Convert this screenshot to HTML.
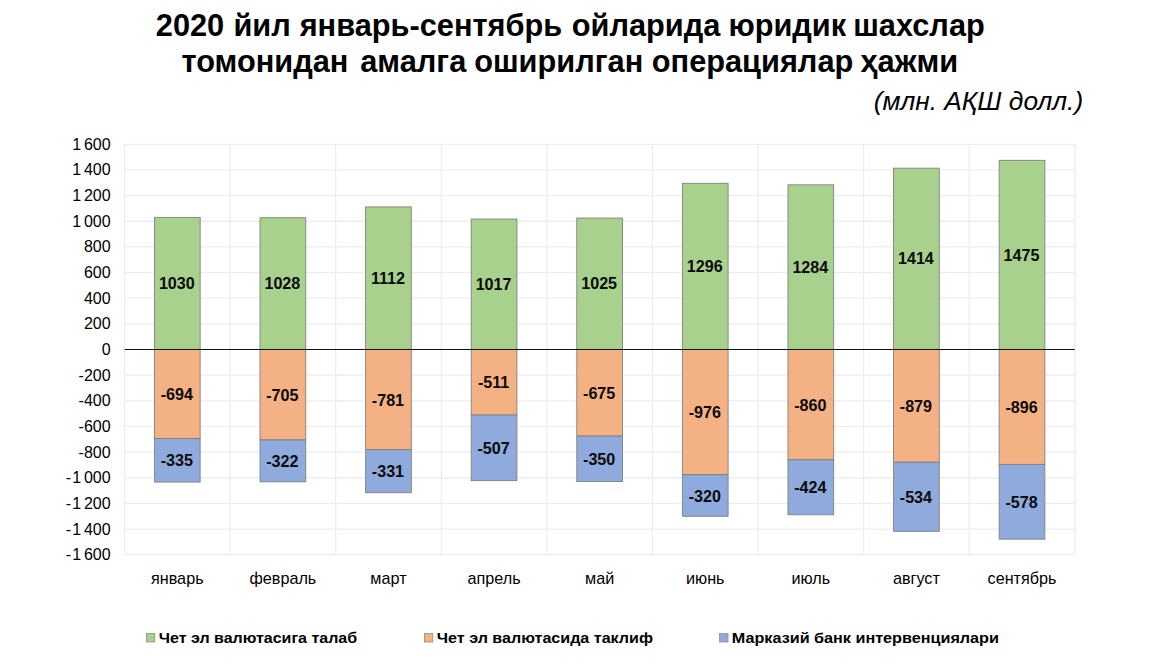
<!DOCTYPE html>
<html lang="uz"><head><meta charset="utf-8"><title>Chart</title>
<style>
html,body{margin:0;padding:0;background:#fff;}
body{width:1155px;height:667px;overflow:hidden;}
svg{display:block;font-family:"Liberation Sans",sans-serif;}
.t{font-weight:bold;fill:#000;}
.yl{fill:#000;text-anchor:end;}
.xl{fill:#000;text-anchor:middle;}
.dl{font-weight:bold;fill:#0a0a0a;text-anchor:middle;}
.lg{font-weight:bold;fill:#000;}
.gr{stroke:#ededf0;stroke-width:1.3;fill:none;}
.bar{stroke:#808080;stroke-width:0.9;}
</style></head><body>
<svg width="1155" height="667" viewBox="0 0 1155 667">
<rect width="1155" height="667" fill="#fff"/>
<text class="t" x="570.3" y="36.3" font-size="30.75" text-anchor="middle">2020 <tspan dx="0.7">йил</tspan> <tspan dx="0.3">январь-сентябрь</tspan> <tspan dx="1">ойларида</tspan> <tspan dx="-0.5">юридик</tspan> <tspan dx="-1.5">шахслар</tspan></text>
<text class="t" x="569.85" y="72.2" font-size="30.75" text-anchor="middle">томонидан <tspan dx="3.3">амалга</tspan> <tspan dx="-0.6">оширилган</tspan> <tspan dx="0">операциялар</tspan> <tspan dx="-1.4">ҳажми</tspan></text>
<text x="1083.2" y="109.8" font-size="26.3" font-style="italic" text-anchor="end" fill="#000">(млн. АҚШ долл.)</text>
<g class="gr">
<line x1="124.5" y1="144.3" x2="1074.8" y2="144.3"/>
<line x1="124.5" y1="169.95" x2="1074.8" y2="169.95"/>
<line x1="124.5" y1="195.6" x2="1074.8" y2="195.6"/>
<line x1="124.5" y1="221.25" x2="1074.8" y2="221.25"/>
<line x1="124.5" y1="246.9" x2="1074.8" y2="246.9"/>
<line x1="124.5" y1="272.55" x2="1074.8" y2="272.55"/>
<line x1="124.5" y1="298.2" x2="1074.8" y2="298.2"/>
<line x1="124.5" y1="323.85" x2="1074.8" y2="323.85"/>
<line x1="124.5" y1="375.15" x2="1074.8" y2="375.15"/>
<line x1="124.5" y1="400.8" x2="1074.8" y2="400.8"/>
<line x1="124.5" y1="426.45" x2="1074.8" y2="426.45"/>
<line x1="124.5" y1="452.1" x2="1074.8" y2="452.1"/>
<line x1="124.5" y1="477.75" x2="1074.8" y2="477.75"/>
<line x1="124.5" y1="503.4" x2="1074.8" y2="503.4"/>
<line x1="124.5" y1="529.05" x2="1074.8" y2="529.05"/>
<line x1="124.5" y1="554.7" x2="1074.8" y2="554.7"/>
<line x1="124.5" y1="144.3" x2="124.5" y2="554.7"/>
<line x1="230.09" y1="144.3" x2="230.09" y2="554.7"/>
<line x1="335.68" y1="144.3" x2="335.68" y2="554.7"/>
<line x1="441.27" y1="144.3" x2="441.27" y2="554.7"/>
<line x1="546.86" y1="144.3" x2="546.86" y2="554.7"/>
<line x1="652.44" y1="144.3" x2="652.44" y2="554.7"/>
<line x1="758.03" y1="144.3" x2="758.03" y2="554.7"/>
<line x1="863.62" y1="144.3" x2="863.62" y2="554.7"/>
<line x1="969.21" y1="144.3" x2="969.21" y2="554.7"/>
<line x1="1074.8" y1="144.3" x2="1074.8" y2="554.7"/>
</g>
<g class="yl" font-size="16">
<text x="110.6" y="149.75">1 <tspan dx="-1.6">600</tspan></text>
<text x="110.6" y="175.4">1 <tspan dx="-1.6">400</tspan></text>
<text x="110.6" y="201.05">1 <tspan dx="-1.6">200</tspan></text>
<text x="110.6" y="226.7">1 <tspan dx="-1.6">000</tspan></text>
<text x="110.6" y="252.35">800</text>
<text x="110.6" y="278">600</text>
<text x="110.6" y="303.65">400</text>
<text x="110.6" y="329.3">200</text>
<text x="110.6" y="354.95">0</text>
<text x="110.6" y="380.6">-200</text>
<text x="110.6" y="406.25">-400</text>
<text x="110.6" y="431.9">-600</text>
<text x="110.6" y="457.55">-800</text>
<text x="110.6" y="483.2">-<tspan dx="1.1">1</tspan> <tspan dx="-1.6">000</tspan></text>
<text x="110.6" y="508.85">-<tspan dx="1.1">1</tspan> <tspan dx="-1.6">200</tspan></text>
<text x="110.6" y="534.5">-<tspan dx="1.1">1</tspan> <tspan dx="-1.6">400</tspan></text>
<text x="110.6" y="560.15">-<tspan dx="1.1">1</tspan> <tspan dx="-1.6">600</tspan></text>
</g>
<rect class="bar" x="154.44" y="217.4" width="45.7" height="132.1" fill="#a9d18e"/>
<rect class="bar" x="154.44" y="349.5" width="45.7" height="89.01" fill="#f4b183"/>
<rect class="bar" x="154.44" y="438.51" width="45.7" height="43.56" fill="#8faadc"/>
<rect class="bar" x="260.03" y="217.66" width="45.7" height="131.84" fill="#a9d18e"/>
<rect class="bar" x="260.03" y="349.5" width="45.7" height="90.42" fill="#f4b183"/>
<rect class="bar" x="260.03" y="439.92" width="45.7" height="41.9" fill="#8faadc"/>
<rect class="bar" x="365.62" y="206.89" width="45.7" height="142.61" fill="#a9d18e"/>
<rect class="bar" x="365.62" y="349.5" width="45.7" height="100.16" fill="#f4b183"/>
<rect class="bar" x="365.62" y="449.66" width="45.7" height="43.05" fill="#8faadc"/>
<rect class="bar" x="471.21" y="219.07" width="45.7" height="130.43" fill="#a9d18e"/>
<rect class="bar" x="471.21" y="349.5" width="45.7" height="65.54" fill="#f4b183"/>
<rect class="bar" x="471.21" y="415.04" width="45.7" height="65.62" fill="#8faadc"/>
<rect class="bar" x="576.8" y="218.04" width="45.7" height="131.46" fill="#a9d18e"/>
<rect class="bar" x="576.8" y="349.5" width="45.7" height="86.57" fill="#f4b183"/>
<rect class="bar" x="576.8" y="436.07" width="45.7" height="45.49" fill="#8faadc"/>
<rect class="bar" x="682.39" y="183.29" width="45.7" height="166.21" fill="#a9d18e"/>
<rect class="bar" x="682.39" y="349.5" width="45.7" height="125.17" fill="#f4b183"/>
<rect class="bar" x="682.39" y="474.67" width="45.7" height="41.64" fill="#8faadc"/>
<rect class="bar" x="787.98" y="184.83" width="45.7" height="164.67" fill="#a9d18e"/>
<rect class="bar" x="787.98" y="349.5" width="45.7" height="110.3" fill="#f4b183"/>
<rect class="bar" x="787.98" y="459.8" width="45.7" height="54.98" fill="#8faadc"/>
<rect class="bar" x="893.57" y="168.15" width="45.7" height="181.35" fill="#a9d18e"/>
<rect class="bar" x="893.57" y="349.5" width="45.7" height="112.73" fill="#f4b183"/>
<rect class="bar" x="893.57" y="462.23" width="45.7" height="69.09" fill="#8faadc"/>
<rect class="bar" x="999.16" y="160.33" width="45.7" height="189.17" fill="#a9d18e"/>
<rect class="bar" x="999.16" y="349.5" width="45.7" height="114.91" fill="#f4b183"/>
<rect class="bar" x="999.16" y="464.41" width="45.7" height="74.73" fill="#8faadc"/>
<line x1="124.5" y1="349.5" x2="1074.8" y2="349.5" stroke="#111" stroke-width="1.15"/>
<g class="dl" font-size="16.1">
<text x="176.79" y="289.05">1030</text>
<text x="176.79" y="400.1">-694</text>
<text x="176.79" y="466.39">-335</text>
<text x="282.38" y="289.18">1028</text>
<text x="282.38" y="400.81">-705</text>
<text x="282.38" y="466.96">-322</text>
<text x="387.97" y="283.79">1112</text>
<text x="387.97" y="405.68">-781</text>
<text x="387.97" y="477.29">-331</text>
<text x="493.56" y="289.88">1017</text>
<text x="493.56" y="388.37">-511</text>
<text x="493.56" y="453.95">-507</text>
<text x="599.15" y="289.37">1025</text>
<text x="599.15" y="398.88">-675</text>
<text x="599.15" y="464.91">-350</text>
<text x="704.74" y="271.99">1296</text>
<text x="704.74" y="418.19">-976</text>
<text x="704.74" y="501.59">-320</text>
<text x="810.33" y="272.76">1284</text>
<text x="810.33" y="410.75">-860</text>
<text x="810.33" y="493.38">-424</text>
<text x="915.92" y="264.43">1414</text>
<text x="915.92" y="411.97">-879</text>
<text x="915.92" y="502.87">-534</text>
<text x="1021.51" y="260.52">1475</text>
<text x="1021.51" y="413.06">-896</text>
<text x="1021.51" y="507.88">-578</text>
</g>
<g class="xl" font-size="16.2">
<text x="177.29" y="583.6">январь</text>
<text x="282.88" y="583.6">февраль</text>
<text x="388.47" y="583.6">март</text>
<text x="494.06" y="583.6">апрель</text>
<text x="599.65" y="583.6">май</text>
<text x="705.24" y="583.6">июнь</text>
<text x="810.83" y="583.6">июль</text>
<text x="916.42" y="583.6">август</text>
<text x="1022.01" y="583.6">сентябрь</text>
</g>
<g class="lg" font-size="15.55">
<rect x="146.4" y="633.6" width="8.4" height="8.4" fill="#a9d18e" stroke="#8c8c8c" stroke-width="0.8"/>
<text transform="translate(158.8 643.3) scale(1.03 1)">Чет эл валютасига талаб</text>
<rect x="424.4" y="633.6" width="8.4" height="8.4" fill="#f4b183" stroke="#8c8c8c" stroke-width="0.8"/>
<text transform="translate(436.8 643.3) scale(1.035 1)">Чет эл валютасида таклиф</text>
<rect x="719.6" y="633.6" width="8.4" height="8.4" fill="#8faadc" stroke="#8c8c8c" stroke-width="0.8"/>
<text transform="translate(731.8 643.3) scale(1.042 1)">Марказий банк интервенциялари</text>
</g>
</svg>
</body></html>
